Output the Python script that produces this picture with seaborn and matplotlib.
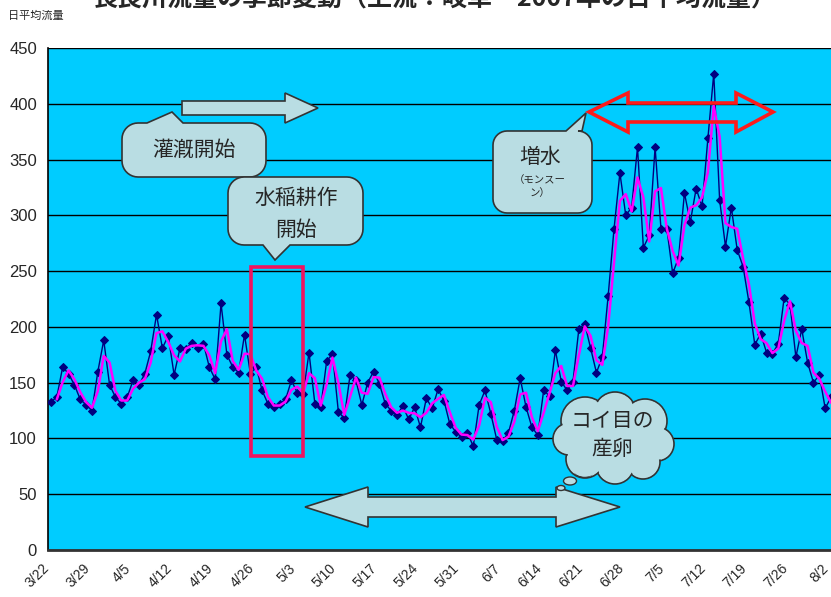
import numpy as np
import pandas as pd
import matplotlib
matplotlib.use("Agg")
import matplotlib.pyplot as plt
import matplotlib.transforms as mtransforms
from matplotlib.patches import Polygon, Rectangle, Circle, Ellipse
import seaborn as sns

# ---- data: daily mean discharge, 3/22 - 8/3 ----
start_date = "2007-03-22"
flow = [
    133, 137, 164, 158, 148, 135, 130, 125, 160, 188,
    148, 137, 131, 137, 152, 148, 158, 178, 211, 181,
    192, 157, 181, 180, 186, 181, 185, 164, 153, 221,
    175, 164, 159, 193, 158, 164, 143, 131, 128, 131,
    135, 152, 141, 140, 177, 131, 128, 169, 176, 124,
    118, 157, 152, 130, 150, 160, 149, 131, 125, 121,
    129, 117, 128, 110, 136, 127, 144, 134, 113, 106,
    101, 105, 93, 130, 143, 122, 99, 98, 105, 125,
    154, 128, 110, 103, 143, 138, 179, 151, 143, 151,
    198, 203, 181, 159, 173, 228, 288, 338, 300, 307,
    361, 271, 282, 361, 288, 288, 248, 262, 320, 294,
    324, 308, 369, 427, 314, 272, 307, 269, 254, 222,
    184, 194, 177, 176, 185, 226, 220, 173, 198, 168,
    150, 157, 127, 137,
]
yticks = [0, 50, 100, 150, 200, 250, 300, 350, 400, 450]
label_step = 7

dates = pd.date_range(start_date, periods=len(flow), freq="D")
df = pd.DataFrame({"day": np.arange(len(flow)), "flow": flow})
df["ma2"] = df["flow"].rolling(2).mean()   # 2-day moving average trendline
day_labels = [f"{d.month}/{d.day}" for d in dates]

W, H = 831, 597
sns.set_style("white")
plt.rcParams["font.family"] = ["Liberation Sans", "Noto Sans CJK JP", "DejaVu Sans"]
CJK = ["Noto Sans CJK JP", "DejaVu Sans"]

fig = plt.figure(figsize=(W / 100, H / 100), dpi=100)
fig.patch.set_facecolor("white")
ax = fig.add_axes([48 / W, 47 / H, (834 - 48) / W, 502 / H])
ax.set_facecolor("#00CCFF")

sns.lineplot(data=df, x="day", y="flow", ax=ax, color="#000080", lw=1.0,
             marker="D", markersize=4, markeredgecolor="#000080",
             markerfacecolor="#000080", zorder=3)
sns.lineplot(data=df, x="day", y="ma2", ax=ax, color="#FF00FF", lw=1.8, zorder=4)

ax.set_xlim(-0.5, len(flow) - 0.5)
ax.set_ylim(0, 450)
ax.set_yticks(yticks)
ax.set_yticklabels([str(v) for v in yticks], fontsize=12)
ax.yaxis.grid(True, color="black", lw=1)
ax.xaxis.grid(False)
ax.set_axisbelow(True)

ticks_idx = list(range(0, len(flow), label_step))
ax.set_xticks([i - 0.5 for i in ticks_idx])
ax.set_xticklabels([])
ax.tick_params(axis="x", direction="in", length=5, color="#333333", width=1)
ax.tick_params(axis="y", direction="out", length=4, color="black", width=1, pad=4)
for i in ticks_idx:
    ax.text(i - 1.6, -10, day_labels[i], rotation=45, ha="right", va="top",
            rotation_mode="anchor", fontsize=10, transform=ax.transData, clip_on=False)
ax.set_xlabel("")
ax.set_ylabel("")
for side in ["top", "right"]:
    ax.spines[side].set_visible(False)
ax.spines["left"].set_color("black")
ax.spines["left"].set_linewidth(1.2)
ax.spines["bottom"].set_color("#333333")
ax.spines["bottom"].set_linewidth(2)

# pixel coordinates (origin top-left)
pix = mtransforms.Affine2D().scale(1 / W, -1 / H).translate(0, 1) + fig.transFigure

fig.text(8 / W, 1 - 16 / H, "日平均流量", fontsize=8, family=CJK, va="center", ha="left")
fig.text(435 / W, 1 - (-1) / H, "長良川流量の季節変動（上流：岐阜・2007年の日平均流量）",
         fontsize=18, fontweight="bold", family=CJK, ha="center", va="center")

FILL = "#B9DDE3"
EDGE = "#333333"


def add_poly(pts, fc, ec, lw=1.2, z=10):
    fig.add_artist(Polygon(pts, closed=True, facecolor=fc, edgecolor=ec, lw=lw,
                           transform=pix, zorder=z))


def callout(x0, y0, x1, y1, r, side, ba, bb, tip):
    pts = []
    if side == "top":
        pts += [(x0 + r, y0), (ba, y0), tip, (bb, y0), (x1 - r, y0)]
    else:
        pts += [(x0 + r, y0), (x1 - r, y0)]
    for t in np.linspace(-90, 0, 10):
        pts.append((x1 - r + r * np.cos(np.radians(t)), y0 + r + r * np.sin(np.radians(t))))
    for t in np.linspace(0, 90, 10):
        pts.append((x1 - r + r * np.cos(np.radians(t)), y1 - r + r * np.sin(np.radians(t))))
    if side == "bottom":
        pts += [(bb, y1), tip, (ba, y1)]
    for t in np.linspace(90, 180, 10):
        pts.append((x0 + r + r * np.cos(np.radians(t)), y1 - r + r * np.sin(np.radians(t))))
    for t in np.linspace(180, 270, 10):
        pts.append((x0 + r + r * np.cos(np.radians(t)), y0 + r + r * np.sin(np.radians(t))))
    add_poly(pts, FILL, EDGE)


def ptext(x, y, s, size, **kw):
    fig.text(x / W, 1 - y / H, s, fontsize=size, family=CJK, ha="center",
             va="center", zorder=20, **kw)


# irrigation period arrow
add_poly([(182, 101), (285, 101), (285, 93), (318, 108), (285, 123), (285, 115), (182, 115)],
         FILL, EDGE)
callout(122, 123, 266, 177, 16, "top", 147, 183, (172, 112))
ptext(194, 150, "灌漑開始", 15)

callout(228, 177, 363, 245, 16, "bottom", 263, 290, (275, 260))
ptext(296, 198, "水稲耕作", 15)
ptext(296, 230, "開始", 15)

callout(493, 131, 592, 213, 14, "top", 566, 582, (586, 113))
ptext(540, 157, "増水", 15)
ptext(540, 180, "（モンスー", 7.5)
ptext(540, 193, "ン）", 7.5)

# monsoon period double arrow (outline)
fig.add_artist(Polygon([(589, 112), (628, 93), (628, 103), (736, 103), (736, 93), (773, 112),
                        (736, 132), (736, 122), (628, 122), (628, 132)],
                       closed=True, facecolor="none", edgecolor="#FF1A1A", lw=2.6,
                       transform=pix, zorder=10))

# transplanting window
fig.add_artist(Rectangle((251, 267), 52, 189, facecolor="none", edgecolor="#F0135F",
                         lw=2.6, transform=pix, zorder=10))

# spawning period double arrow
add_poly([(305, 507), (368, 487), (368, 497), (556, 497), (556, 487), (620, 507),
          (556, 527), (556, 517), (368, 517), (368, 527)], FILL, EDGE)

# thought cloud
bumps = [(585, 421, 24), (615, 413, 21), (645, 421, 22), (657, 444, 17), (643, 462, 17),
         (615, 465, 19), (585, 459, 19), (569, 439, 16)]
for cx, cy, r in bumps:
    fig.add_artist(Circle((cx, cy), r, facecolor=FILL, edgecolor=EDGE, lw=1.2,
                          transform=pix, zorder=11))
for cx, cy, r in bumps:
    fig.add_artist(Circle((cx, cy), r - 1.3, facecolor=FILL, edgecolor="none",
                          transform=pix, zorder=12))
fig.add_artist(Ellipse((612, 440), 80, 48, facecolor=FILL, edgecolor="none",
                       transform=pix, zorder=12))
for cx, cy, w, h in [(584, 472, 18, 10), (570, 481, 13, 8), (561, 488, 8, 5)]:
    fig.add_artist(Ellipse((cx, cy), w, h, facecolor=FILL, edgecolor=EDGE, lw=1.0,
                           transform=pix, zorder=11))
ptext(612, 421, "コイ目の", 15)
ptext(612, 449, "産卵", 15)

fig.savefig("out.png", dpi=100, facecolor="white")
